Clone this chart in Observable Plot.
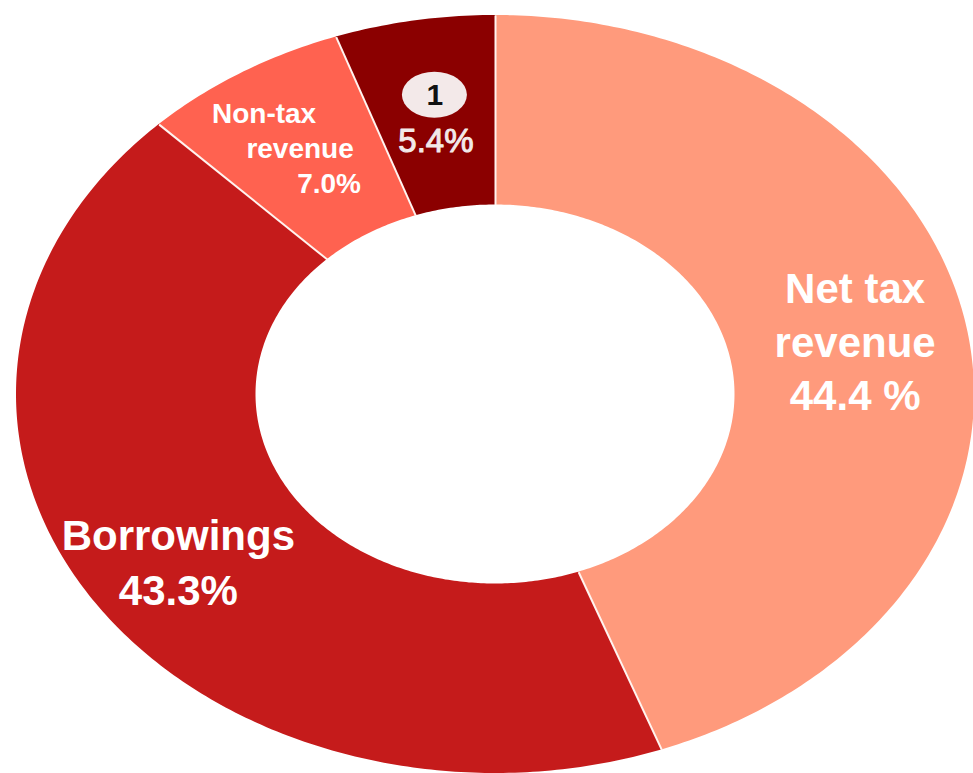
<!DOCTYPE html>
<html><head><meta charset="utf-8">
<script src="https://cdn.jsdelivr.net/npm/d3@7"></script>
<script src="https://cdn.jsdelivr.net/npm/@observablehq/plot@0.6"></script>
<style>body{margin:0;background:#fff}#chart svg{display:block}</style>
</head><body><div id="chart"></div>
<script>
// ---- data ----
const categories = ["Net tax revenue", "Borrowings", "Non-tax revenue", "1"];
const shares = [44.4, 43.3, 7.0, 5.4];
const shareLabels = ["44.4 %", "43.3%", "7.0%", "5.4%"];
const colors = ["#FF9A7C", "#C51B1B", "#FF6250", "#8B0000"];

// ---- geometry derived from data ----
const total = d3.sum(shares);
const R_OUT = 1, R_IN = 0.5, R_LABEL = 0.75;
const starts = [];
let acc = 0;
shares.forEach(s => { starts.push(acc / total); acc += s; });
const ends = shares.map((s, i) => starts[i] + s / total);
const ang = f => 2 * Math.PI * f;

const areaPts = [];
categories.forEach((c, i) => {
  const n = Math.max(24, Math.ceil(shares[i] * 5));
  for (let k = 0; k <= n; k++) {
    const t = ang(starts[i] + (ends[i] - starts[i]) * k / n);
    areaPts.push({cat: c, xo: R_OUT * Math.sin(t), yo: R_OUT * Math.cos(t),
                  xi: R_IN * Math.sin(t), yi: R_IN * Math.cos(t)});
  }
});
const seps = starts.map(f => ({x1: R_IN * Math.sin(ang(f)), y1: R_IN * Math.cos(ang(f)),
                               x2: R_OUT * Math.sin(ang(f)), y2: R_OUT * Math.cos(ang(f))}));
const anchor = i => {
  const t = ang((starts[i] + ends[i]) / 2);
  return {x: R_LABEL * Math.sin(t), y: R_LABEL * Math.cos(t), i};
};
const A = categories.map((c, i) => anchor(i));

const font = "Liberation Sans, Arial, Helvetica, sans-serif";
const bx = 32.5 / 479, by = 23 / 379;

const chart = Plot.plot({
  width: 973, height: 773,
  margin: 0,
  style: {background: "#fff", fontFamily: font},
  x: {domain: [-495 / 479, 478 / 479], axis: null},
  y: {domain: [-1.0, 394 / 379], axis: null},
  color: {domain: categories, range: colors},
  marks: [
    Plot.area(areaPts, {x1: "xo", y1: "yo", x2: "xi", y2: "yi", z: "cat", fill: "cat", curve: "linear"}),
    Plot.link(seps, {x1: "x1", y1: "y1", x2: "x2", y2: "y2", stroke: "#fff4f0", strokeWidth: 2}),
    // Net tax revenue
    Plot.text([A[0]], {x: "x", y: "y", text: () => "Net tax\nrevenue\n" + shareLabels[0],
      fill: "white", fontSize: 42, fontWeight: "bold", lineHeight: 1.28, dx: 6, dy: -5, textAnchor: "middle"}),
    // Borrowings
    Plot.text([A[1]], {x: "x", y: "y", text: () => "Borrowings\n" + shareLabels[1],
      fill: "white", fontSize: 42, fontWeight: "bold", lineHeight: 1.31, dx: -14, dy: 13, textAnchor: "middle"}),
    // Non-tax revenue (staggered lines)
    Plot.text([A[2]], {x: "x", y: "y", text: () => "Non-tax", fill: "white", fontSize: 28, fontWeight: "bold", dx: -41, dy: -39}),
    Plot.text([A[2]], {x: "x", y: "y", text: () => "revenue", fill: "white", fontSize: 28, fontWeight: "bold", dx: -5, dy: -4}),
    Plot.text([A[2]], {x: "x", y: "y", text: () => shareLabels[2], fill: "white", fontSize: 28, fontWeight: "bold", dx: 24, dy: 31}),
    // badge "1"
    Plot.rect([A[3]], {x1: d => d.x - bx, x2: d => d.x + bx, y1: d => d.y - by, y2: d => d.y + by,
      fill: "#f3e9e9", rx: 40, dy: -19}),
    Plot.text([A[3]], {x: "x", y: "y", text: () => categories[3], fill: "#111", fontSize: 30, fontWeight: "bold", dy: -19}),
    Plot.text([A[3]], {x: "x", y: "y", text: () => shareLabels[3], fill: "#f2e9e9", stroke: "#f2e9e9", strokeWidth: 1,
      fontSize: 33, dx: 1, dy: 27})
  ]
});
document.getElementById("chart").appendChild(chart);
</script>
</body></html>
